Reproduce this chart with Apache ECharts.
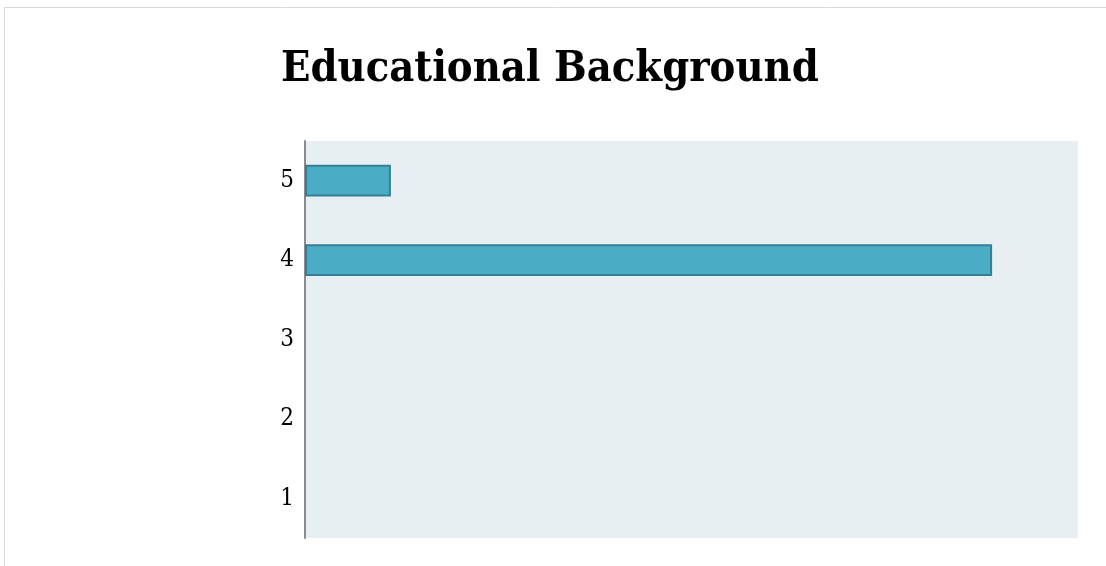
<!DOCTYPE html>
<html>
<head>
<meta charset="utf-8">
<script src="https://cdn.jsdelivr.net/npm/echarts@6/dist/echarts.min.js"></script>
<style>
    html, body { margin: 0; padding: 0; background: #fff; }
    #main { width: 1106px; height: 566px; }
</style>
</head>
<body>
<div id="main"></div>
<script>
var categories = ['1', '2', '3', '4', '5'];
var counts = [0, 0, 0, 8, 1];
var xMax = 9;

var myChart = echarts.init(document.getElementById('main'));

// zero bars get no border, otherwise a thin sliver shows on the axis
var barData = counts.map(function (v) {
    return { value: v, itemStyle: { borderWidth: v === 0 ? 0 : 2 } };
});

var option = {
    backgroundColor: '#fff',
    animation: false,
    title: {
        text: 'Educational Background',
        left: 276,
        top: 43,
        textStyle: {
            fontFamily: 'DejaVu Serif Condensed',
            fontWeight: 'bold',
            fontSize: 43,
            color: '#000'
        }
    },
    // light frame round the picture
    graphic: [{
        type: 'rect',
        shape: { x: 4.5, y: 7.5, width: 1200, height: 700 },
        style: { fill: 'none', stroke: '#d9d9d9', lineWidth: 1 },
        silent: true
    }],
    grid: {
        left: 305,
        top: 141,
        right: 28,
        bottom: 28,
        show: true,
        backgroundColor: '#e7eff2',
        borderWidth: 0
    },
    xAxis: {
        type: 'value',
        min: 0,
        max: xMax,
        axisLine: { show: false },
        axisTick: { show: false },
        axisLabel: { show: false },
        splitLine: { show: false }
    },
    yAxis: {
        type: 'category',
        data: categories,
        axisLine: { show: true, lineStyle: { color: '#8c8c8c', width: 2 } },
        axisTick: { show: false },
        axisLabel: {
            margin: 11,
            fontFamily: 'DejaVu Serif Condensed',
            fontSize: 24,
            color: '#000',
            lineHeight: 28,
            verticalAlign: 'middle',
            padding: [4, 0, 0, 0]
        }
    },
    series: [{
        name: 'count',
        type: 'bar',
        data: barData,
        barWidth: '40%',
        itemStyle: {
            color: '#4bacc6',
            borderColor: '#357f94',
            borderWidth: 2
        }
    }]
};

myChart.setOption(option);
</script>
</body>
</html>
